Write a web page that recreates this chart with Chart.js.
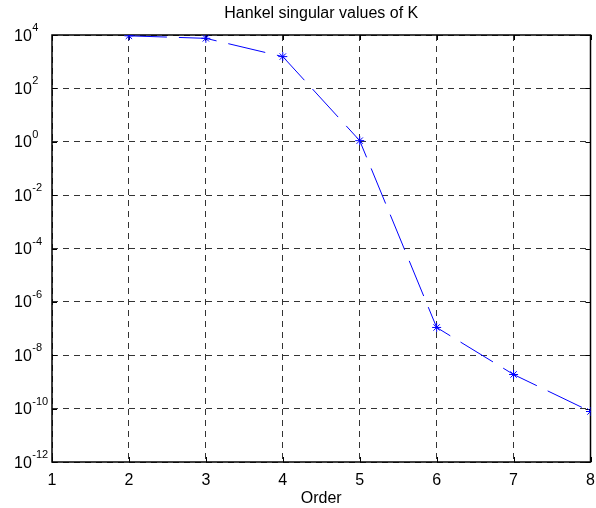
<!DOCTYPE html>
<html><head><meta charset="utf-8">
<script src="https://cdn.jsdelivr.net/npm/chart.js@4.4.0/dist/chart.umd.min.js"></script>
<style>html,body{margin:0;padding:0;background:#fff}canvas{display:block}</style>
</head><body>
<canvas id="c" width="596" height="508"></canvas>
<script>
const orders = [2, 3, 4, 5, 6, 7, 8];
const hankelValues = [9300, 7500, 1550, 1.1, 1.1e-7, 1.9e-9, 7.8e-11];
const xTickValues = [1, 2, 3, 4, 5, 6, 7, 8];
const yExponents = [4, 2, 0, -2, -4, -6, -8, -10, -12];
const titleText = 'Hankel singular values of K';
const xTitleText = 'Order';

const FONT = "'Liberation Sans', Arial, sans-serif";
const yTickValues = yExponents.map(e => parseFloat('1e' + e));

const framePlugin = {
  id: 'frame',
  beforeDatasetsDraw(chart) {
    const {ctx, chartArea: a, scales: {x, y}} = chart;
    ctx.save();
    ctx.setLineDash([]);
    ctx.strokeStyle = '#000';
    ctx.lineWidth = 1;
    ctx.beginPath();
    xTickValues.forEach(v => {
      const px = Math.round(x.getPixelForValue(v)) + 0.5;
      ctx.moveTo(px, a.top); ctx.lineTo(px, a.top + 5);
      ctx.moveTo(px, a.bottom); ctx.lineTo(px, a.bottom - 5);
    });
    yTickValues.forEach(v => {
      const py = Math.round(y.getPixelForValue(v)) + 0.5;
      ctx.moveTo(a.left, py); ctx.lineTo(a.left + 5, py);
      ctx.moveTo(a.right, py); ctx.lineTo(a.right - 5, py);
    });
    ctx.stroke();
    ctx.lineWidth = 1.5;
    ctx.strokeRect(a.left, a.top, a.right - a.left, a.bottom - a.top);
    ctx.restore();
  },
  afterDraw(chart) {
    const {ctx, scales: {y}} = chart;
    ctx.save();
    ctx.fillStyle = '#000';
    ctx.textBaseline = 'alphabetic';
    ctx.textAlign = 'left';
    yExponents.forEach((e, i) => {
      const py = y.getPixelForValue(yTickValues[i]);
      ctx.font = '16px ' + FONT;
      ctx.fillText('10', 14, py + 5.5);
      const w = ctx.measureText('10').width;
      ctx.font = '11px ' + FONT;
      ctx.fillText(String(e), 14 + w + 0.5, py - 4);
    });
    ctx.restore();
  }
};

new Chart(document.getElementById('c'), {
  type: 'line',
  data: {
    datasets: [{
      data: orders.map((o, i) => ({x: o, y: hankelValues[i]})),
      borderColor: '#0000ff',
      backgroundColor: '#0000ff',
      borderWidth: 1,
      borderDash: [38, 12],
      pointStyle: 'star',
      pointRadius: 4.5,
      pointBorderColor: '#0000ff',
      pointBorderWidth: 1,
      fill: false,
      tension: 0
    }]
  },
  options: {
    responsive: false,
    animation: false,
    devicePixelRatio: 1,
    layout: {padding: {left: 0, right: 1, top: 0, bottom: 0}},
    plugins: {
      legend: {display: false},
      tooltip: {enabled: false},
      title: {
        display: true,
        text: titleText,
        fullSize: false,
        color: '#000',
        font: {family: FONT, size: 16, weight: 'normal'},
        padding: {top: 4, bottom: 11.8}
      }
    },
    scales: {
      x: {
        type: 'linear',
        min: 1, max: 8,
        afterBuildTicks(s) { s.ticks = xTickValues.map(v => ({value: v})); },
        afterFit(s) { s.height = 46; s.paddingLeft = 0; s.paddingRight = 0; },
        ticks: {
          autoSkip: false, maxRotation: 0,
          color: '#000', padding: 9,
          font: {family: FONT, size: 16},
          callback: v => String(v)
        },
        grid: {color: 'rgba(0,0,0,0.8)', lineWidth: 1, drawTicks: false},
        border: {display: false, dash: [6, 5]},
        title: {
          display: true, text: xTitleText, color: '#000',
          font: {family: FONT, size: 16},
          padding: {top: 0, bottom: 0}
        }
      },
      y: {
        type: 'logarithmic',
        min: 1e-12, max: 1e4,
        afterBuildTicks(s) { s.ticks = yTickValues.map(v => ({value: v})); },
        afterFit(s) { s.width = 52; s.paddingTop = 0; s.paddingBottom = 0; },
        ticks: {autoSkip: false, callback: () => '', padding: 0},
        grid: {color: 'rgba(0,0,0,0.8)', lineWidth: 1, drawTicks: false},
        border: {display: false, dash: [6, 5]}
      }
    }
  },
  plugins: [framePlugin]
});
</script>
</body></html>
